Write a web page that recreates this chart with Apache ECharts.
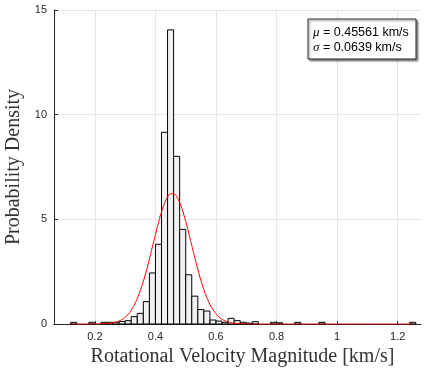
<!DOCTYPE html>
<html>
<head>
<meta charset="utf-8">
<script src="https://cdn.jsdelivr.net/npm/echarts@6/dist/echarts.min.js"></script>
<style>
html,body{margin:0;padding:0;background:#fff;}
#chart{width:424px;height:371px;}
</style>
</head>
<body>
<div id="chart"></div>
<script>
// ---- data ----
const binWidth = 0.02;
const binStarts = [0.12,0.18,0.22,0.24,0.26,0.28,0.30,0.32,0.34,0.36,0.38,0.40,0.42,0.44,0.46,0.48,0.50,0.52,0.54,0.56,0.58,0.60,0.62,0.64,0.66,0.68,0.70,0.72,0.78,0.80,0.86,0.94,1.24];
const binDensity = [0.08,0.08,0.08,0.08,0.08,0.12,0.16,0.35,0.51,1.07,2.44,3.81,9.16,14.05,8.01,4.52,2.35,1.33,0.69,0.62,0.19,0.14,0.08,0.27,0.16,0.08,0.04,0.11,0.08,0.06,0.08,0.08,0.08];
const curveX = [0.12,0.20,0.25,0.26,0.27,0.28,0.29,0.30,0.31,0.32,0.33,0.34,0.35,0.36,0.37,0.38,0.39,0.40,0.41,0.42,0.43,0.44,0.45,0.46,0.47,0.48,0.49,0.50,0.51,0.52,0.53,0.54,0.55,0.56,0.57,0.58,0.59,0.60,0.61,0.62,0.63,0.64,0.65,0.66,0.68,0.70,0.75,1.25];
const curveY = [0.000,0.002,0.035,0.058,0.092,0.143,0.217,0.322,0.465,0.657,0.904,1.215,1.593,2.039,2.545,3.100,3.686,4.275,4.840,5.345,5.762,6.059,6.219,6.228,6.086,5.804,5.401,4.904,4.345,3.757,3.170,2.610,2.096,1.643,1.257,0.938,0.684,0.486,0.337,0.228,0.151,0.097,0.061,0.037,0.013,0.004,0.000,0.000];
const xTicks = [0.2,0.4,0.6,0.8,1,1.2];
const xRange = [0.065, 1.277];
const yRange = [0, 15];
const yStep = 5;
const muText = '0.45561 km/s';
const sigmaText = '0.0639 km/s';
const xName = 'Rotational Velocity Magnitude [km/s]';
const yName = 'Probability Density';

const histData = binStarts.map((s, i) => [s, s + binWidth, binDensity[i]]);
const curveData = curveX.map((x, i) => [x, curveY[i]]);

const chart = echarts.init(document.getElementById('chart'), null, {renderer: 'canvas'});
const tickColor = '#262626';
const gridColor = '#e6e6e6';
const option = {
  animation: false,
  backgroundColor: '#fff',
  grid: {left: 54, right: 3, top: 10, bottom: 47, containLabel: false, outerBoundsMode: 'none'},
  xAxis: {
    type: 'value', min: xRange[0], max: xRange[1],
    name: xName, nameLocation: 'middle', nameGap: 20,
    nameTextStyle: {fontFamily: 'Liberation Serif', fontSize: 20, color: '#333', padding: [0, 0, 0, 10]},
    axisLine: {show: true, lineStyle: {color: tickColor, width: 1}},
    axisTick: {show: true, inside: true, length: 3, customValues: xTicks, lineStyle: {color: tickColor}},
    axisLabel: {customValues: xTicks, fontFamily: 'Liberation Sans', fontSize: 11, color: tickColor, margin: 7},
    splitLine: {show: true, lineStyle: {color: gridColor, width: 1}}
  },
  yAxis: {
    type: 'value', min: yRange[0], max: yRange[1], interval: yStep,
    name: yName, nameLocation: 'middle', nameGap: 25,
    nameTextStyle: {fontFamily: 'Liberation Serif', fontSize: 20, color: '#333'},
    axisLine: {show: true, lineStyle: {color: tickColor, width: 1}},
    axisTick: {show: true, inside: true, length: 4, lineStyle: {color: tickColor}},
    axisLabel: {fontFamily: 'Liberation Sans', fontSize: 11, color: tickColor, margin: 7},
    splitLine: {show: true, lineStyle: {color: gridColor, width: 1}}
  },
  series: [
    {
      type: 'custom',
      data: histData,
      encode: {x: [0, 1], y: 2},
      renderItem: function (params, api) {
        const p0 = api.coord([api.value(0), api.value(2)]);
        const p1 = api.coord([api.value(1), 0]);
        return {
          type: 'rect',
          shape: {x: p0[0], y: p0[1], width: p1[0] - p0[0], height: p1[1] - p0[1]},
          style: {fill: '#f0f0f0', stroke: '#000', lineWidth: 1}
        };
      },
      z: 2
    },
    {
      type: 'line',
      data: curveData,
      showSymbol: false,
      smooth: true,
      lineStyle: {color: '#ff0000', width: 1},
      z: 3
    }
  ],
  graphic: [
    {
      type: 'rect', z: 10,
      shape: {x: 308, y: 19, width: 108, height: 40},
      style: {fill: '#fff', stroke: '#262626', lineWidth: 1, shadowBlur: 2, shadowOffsetX: 1.5, shadowOffsetY: 1.5, shadowColor: 'rgba(0,0,0,0.45)'}
    },
    {
      type: 'text', z: 11, x: 313, y: 25,
      style: {
        text: '{g|μ}{t| = ' + muText + '}\n{g|σ}{t| = ' + sigmaText + '}',
        lineHeight: 15,
        rich: {
          g: {fontFamily: 'Liberation Serif', fontStyle: 'italic', fontSize: 13, color: '#000', lineHeight: 15},
          t: {fontFamily: 'Liberation Sans', fontSize: 12.5, color: '#000', lineHeight: 15}
        }
      }
    }
  ]
};
chart.setOption(option);
</script>
</body>
</html>
